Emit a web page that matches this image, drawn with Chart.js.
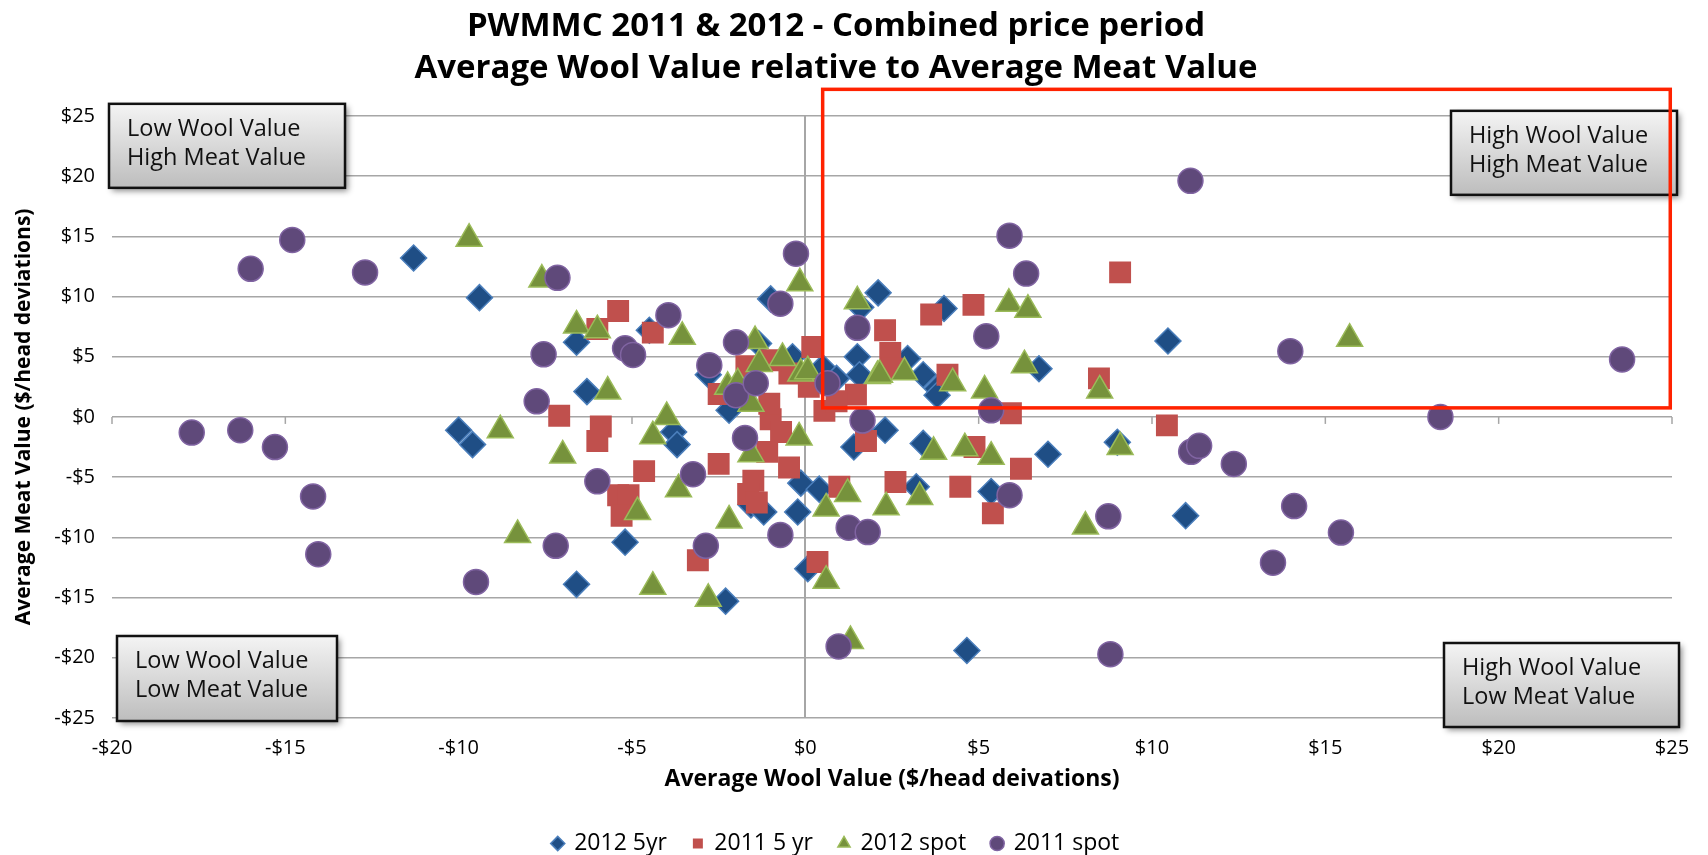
<!DOCTYPE html>
<html>
<head>
<meta charset="utf-8">
<script src="https://cdn.jsdelivr.net/npm/chart.js@4.4.1/dist/chart.umd.min.js"></script>
<style>
  html, body { margin: 0; padding: 0; background: #fff; }
  #wrap { width: 1708px; height: 855px; }
</style>
</head>
<body>
<div id="wrap"><canvas id="grafico" width="1708" height="855"></canvas></div>
<script>
// series names (legend order)
const seriesNames = ['2012 5yr', '2011 5 yr', '2012 spot', '2011 spot'];

// 2012 5yr  (wool = x, meat = y)
const wool2012_5yr = [-11.3, -9.4, -10.0, -9.6, -6.6, -6.3, -4.5, -3.8, -3.7, -5.2, -6.6, -2.3, -2.8, -2.2, -1.35,
  -1.0, -0.37, 0.5, 0.9, 1.5, 1.56, 1.6, 2.1, 2.95, 3.4, 3.8, 3.8, 4.0, 6.74, 10.46, -1.57, -1.2, -0.13, 0.4, -0.22,
  0.07, 1.4, 2.3, 3.4, 3.2, 5.36, 7.0, 9.0, 10.97, 4.66];
const meat2012_5yr = [13.2, 9.9, -1.1, -2.3, 6.2, 2.1, 7.2, -1.25, -2.3, -10.4, -13.9, -15.3, 3.5, 0.55, 6.1,
  9.8, 5.0, 4.1, 3.2, 5.0, 3.5, 9.1, 10.3, 4.85, 3.5, 2.35, 1.8, 9.0, 4.0, 6.3, -7.3, -7.9, -5.5, -6.0, -7.9,
  -12.6, -2.5, -1.1, -2.2, -5.8, -6.2, -3.1, -2.1, -8.2, -19.4];

// 2011 5 yr
const wool2011_5yr = [-5.4, -6.0, -4.4, -7.1, -5.9, -6.0, -4.65, -5.4, -5.1, -5.3, -3.1, -2.5, -1.5, -1.65, -1.4,
  -1.0, -0.7, -1.1, -0.47, 0.98, 0.35, 0.55, 1.46, 2.3, 0.2, -1.7, -2.5, -1.04, -0.46, 2.45, 2.52, 3.63, 4.85, 4.1,
  9.08, 8.47, 5.93, 1.75, 2.6, 4.88, 6.22, 4.47, 5.41, 10.43, -1.0, 0.1, 0.9];
const meat2011_5yr = [8.8, 7.3, 7.0, 0.1, -0.8, -2.0, -4.5, -6.5, -6.5, -8.2, -11.9, -3.9, -5.3, -6.4, -7.1,
  -0.2, -1.25, -2.9, -4.2, -5.8, -12.05, 0.5, 1.85, 7.2, 5.8, 4.2, 1.9, 1.1, 3.6, 5.3, 4.0, 8.5, 9.3, 3.5,
  12.0, 3.2, 0.3, -2.0, -5.4, -2.5, -4.3, -5.8, -8.0, -0.7, 4.7, 2.5, 1.3];

// 2012 spot
const wool2012_spot = [-9.7, -7.6, -6.6, -6.0, -3.55, -5.7, -4.0, -4.4, -8.8, -7.0, -4.84, -8.3, -3.66, -2.2, -4.4,
  -2.8, -1.57, -0.18, 1.22, 0.6, 0.6, 1.3, 2.33, 3.7, 4.6, 5.36, 3.3, 9.08, 8.08, -0.16, 1.5, -1.45, -1.33, -0.66,
  -0.13, 0.07, 2.08, -2.24, -1.95, -1.57, 2.86, 2.14, 4.25, 5.17, 6.32, 5.87, 6.42, 8.49, 15.7];
const meat2012_spot = [14.8, 11.4, 7.6, 7.2, 6.65, 2.1, 0.0, -1.6, -1.1, -3.2, -7.9, -9.8, -6.0, -8.6, -14.1,
  -15.1, -3.1, -1.7, -6.4, -7.6, -13.6, -18.6, -7.5, -2.9, -2.6, -3.3, -6.65, -2.5, -9.1, 11.1, 9.6, 6.3, 4.4, 4.9,
  3.6, 3.8, 3.4, 2.5, 2.8, 1.1, 3.7, 3.5, 2.8, 2.2, 4.3, 9.4, 8.9, 2.2, 6.5];

// 2011 spot
const wool2011_spot = [-17.7, -16.3, -15.3, -16.0, -14.8, -14.2, -14.05, -12.7, -9.5, -7.75, -7.55, -7.2, -7.15,
  -6.0, -5.2, -4.97, -3.95, -3.24, -2.77, -2.87, -2.0, -2.0, -1.74, -1.43, -0.72, -0.72, -0.27, 0.64, 0.96, 1.25,
  1.5, 1.65, 1.8, 5.89, 6.37, 5.22, 5.36, 5.89, 8.74, 8.8, 11.11, 11.13, 11.36, 12.36, 13.49, 13.99, 14.1, 15.45,
  18.32, 23.56];
const meat2011_spot = [-1.3, -1.1, -2.5, 12.3, 14.7, -6.6, -11.4, 12.0, -13.7, 1.3, 5.2, -10.7, 11.55,
  -5.35, 5.7, 5.15, 8.45, -4.76, 4.3, -10.7, 6.2, 1.8, -1.75, 2.8, 9.4, -9.8, 13.55, 2.8, -19.06, -9.2,
  7.4, -0.3, -9.56, 15.05, 11.9, 6.7, 0.55, -6.5, -8.25, -19.7, 19.6, -2.9, -2.4, -3.9, -12.1, 5.46, -7.4, -9.6,
  0.0, 4.77];

// quadrant labels
const quadrantLabels = [
  ['Low Wool Value', 'High Meat Value'],
  ['High Wool Value', 'High Meat Value'],
  ['Low Wool Value', 'Low Meat Value'],
  ['High Wool Value', 'Low Meat Value']
];
// red highlight box, in data units (wool from..to, meat from..to)
const highlightWool = [0.5, 24.95];
const highlightMeat = [0.75, 27.2];

const fontFamily = '"Open Sans", Lato, sans-serif';

function pares(xs, ys) {
  return xs.map((v, i) => ({ x: v, y: ys[i] }));
}

function dinheiro(v) {
  return (v < 0 ? '-$' : '$') + Math.abs(v);
}

const quadrantes = {
  id: 'quadrantes',
  beforeDatasetsDraw(chart) {
    const { ctx, scales: { x, y } } = chart;
    const y0 = y.getPixelForValue(0);
    ctx.save();
    ctx.strokeStyle = '#a6a6a6';
    ctx.lineWidth = 1.5;
    x.ticks.forEach(t => {
      const px = x.getPixelForValue(t.value);
      ctx.beginPath();
      ctx.moveTo(px, y0);
      ctx.lineTo(px, y0 + 7);
      ctx.stroke();
    });
    ctx.restore();
  },
  afterDatasetsDraw(chart) {
    const { ctx, chartArea: a, scales: { x, y } } = chart;
    const boxes = [
      { left: a.left - 3, top: a.top - 12, w: 236, h: 84 },
      { left: a.right + 5 - 226, top: a.top - 5, w: 226, h: 84 },
      { left: a.left + 5, top: a.bottom + 3 - 85, w: 220, h: 85 },
      { left: a.right + 7 - 235, top: a.bottom + 9 - 84, w: 235, h: 84 }
    ];
    boxes.forEach((b, i) => {
      ctx.save();
      const g = ctx.createLinearGradient(0, b.top, 0, b.top + b.h);
      g.addColorStop(0, '#f4f4f4');
      g.addColorStop(1, '#bdbdbd');
      ctx.shadowColor = 'rgba(0,0,0,0.45)';
      ctx.shadowBlur = 6;
      ctx.shadowOffsetX = 3;
      ctx.shadowOffsetY = 3;
      ctx.fillStyle = g;
      ctx.fillRect(b.left, b.top, b.w, b.h);
      ctx.shadowColor = 'transparent';
      ctx.strokeStyle = '#111';
      ctx.lineWidth = 2.5;
      ctx.strokeRect(b.left, b.top, b.w, b.h);
      ctx.fillStyle = '#111';
      ctx.font = '23.5px ' + fontFamily;
      ctx.textBaseline = 'middle';
      ctx.textAlign = 'left';
      const cy = b.top + b.h / 2;
      ctx.fillText(quadrantLabels[i][0], b.left + 18, cy - 17);
      ctx.fillText(quadrantLabels[i][1], b.left + 18, cy + 12);
      ctx.restore();
    });

    // red highlight rectangle
    const x1 = x.getPixelForValue(highlightWool[0]);
    const x2 = x.getPixelForValue(highlightWool[1]);
    const y1 = y.getPixelForValue(highlightMeat[1]);
    const y2 = y.getPixelForValue(highlightMeat[0]);
    ctx.save();
    ctx.strokeStyle = '#ff2200';
    ctx.lineWidth = 3.5;
    ctx.strokeRect(x1, y1, x2 - x1, y2 - y1);
    ctx.restore();
  }
};

const ctx = document.getElementById('grafico');

new Chart(ctx, {
  type: 'scatter',
  data: {
    datasets: [
      {
        label: seriesNames[0],
        data: pares(wool2012_5yr, meat2012_5yr),
        pointStyle: 'rectRot',
        pointRadius: 13,
        pointHoverRadius: 13,
        backgroundColor: '#1f4e85',
        borderColor: '#4a7ebb',
        borderWidth: 1.5,
        order: 4
      },
      {
        label: seriesNames[1],
        data: pares(wool2011_5yr, meat2011_5yr),
        pointStyle: 'rect',
        pointRadius: 15.5,
        pointHoverRadius: 15.5,
        backgroundColor: '#c0504d',
        borderColor: '#c0504d',
        borderWidth: 0,
        order: 3
      },
      {
        label: seriesNames[2],
        data: pares(wool2012_spot, meat2012_spot),
        pointStyle: 'triangle',
        pointRadius: 15,
        pointHoverRadius: 15,
        backgroundColor: '#76923c',
        borderColor: '#9bbb59',
        borderWidth: 1.5,
        order: 2
      },
      {
        label: seriesNames[3],
        data: pares(wool2011_spot, meat2011_spot),
        pointStyle: 'circle',
        pointRadius: 12.5,
        pointHoverRadius: 12.5,
        backgroundColor: '#5f497a',
        borderColor: '#8064a2',
        borderWidth: 1.5,
        order: 1
      }
    ]
  },
  options: {
    responsive: false,
    animation: false,
    layout: { padding: { left: 0, right: 36, top: 0, bottom: -10 } },
    plugins: {
      title: {
        display: true,
        text: ['PWMMC 2011 & 2012 - Combined price period', 'Average Wool Value relative to Average Meat Value'],
        color: '#000',
        font: { family: fontFamily, size: 33, weight: 'bold', lineHeight: 1.255 },
        padding: { top: 6, bottom: 27 }
      },
      legend: {
        position: 'bottom',
        labels: {
          usePointStyle: true,
          boxWidth: 10,
          boxHeight: 10,
          padding: 26,
          color: '#000',
          font: { family: fontFamily, size: 23 },
          sort: (a, b) => a.datasetIndex - b.datasetIndex
        }
      },
      tooltip: { enabled: false }
    },
    scales: {
      x: {
        type: 'linear',
        min: -20,
        max: 25,
        ticks: {
          stepSize: 5,
          padding: 18,
          color: '#000',
          font: { family: fontFamily, size: 20 },
          callback: v => dinheiro(v)
        },
        grid: {
          drawTicks: false,
          lineWidth: 2,
          color: c => (c.tick && c.tick.value === 0 ? '#a6a6a6' : 'rgba(0,0,0,0)')
        },
        border: { display: false },
        title: {
          display: true,
          text: 'Average Wool Value ($/head deivations)',
          color: '#000',
          font: { family: fontFamily, size: 23, weight: 'bold' },
          padding: { top: 6, bottom: 13 }
        },
        afterFit: s => { s.height = 88; }
      },
      y: {
        type: 'linear',
        min: -25,
        max: 25,
        ticks: {
          stepSize: 5,
          padding: 17,
          color: '#000',
          font: { family: fontFamily, size: 20 },
          callback: v => dinheiro(v)
        },
        grid: {
          drawTicks: false,
          color: '#a6a6a6',
          lineWidth: 1.5
        },
        border: { display: false },
        title: {
          display: true,
          text: 'Average Meat Value ($/head deviations)',
          color: '#000',
          font: { family: fontFamily, size: 21, weight: 'bold' },
          padding: { top: 11, bottom: 0 }
        },
        afterFit: s => { s.width = 112; }
      }
    }
  },
  plugins: [quadrantes]
});
</script>
</body>
</html>
